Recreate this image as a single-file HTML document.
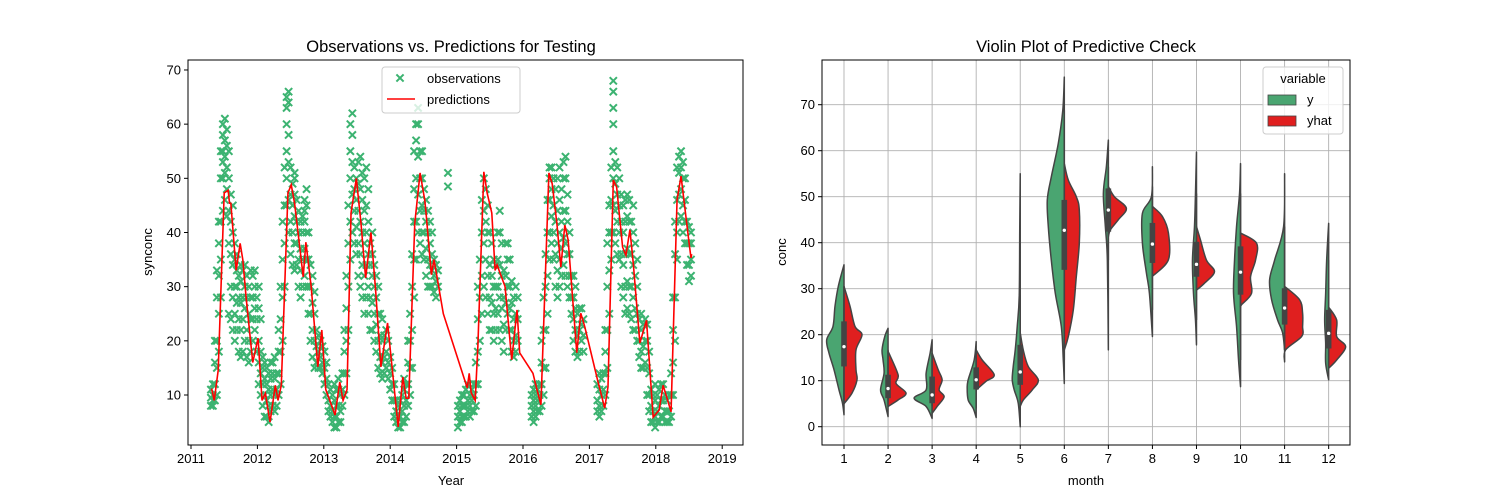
<!DOCTYPE html>
<html><head><meta charset="utf-8"><style>
html,body{margin:0;padding:0;background:#fff;}
svg{display:block;font-family:"Liberation Sans","DejaVu Sans",sans-serif;}
</style></head><body>
<svg id="fig" width="1500" height="500" viewBox="0 0 1500 500"></svg>
<script>
// ---------- Left chart data ----------
const predYears=[2011.31,2011.35,2011.41,2011.50,2011.56,2011.58,2011.60,2011.68,2011.74,2011.78,2011.83,2011.93,2012.01,2012.07,2012.12,2012.19,2012.27,2012.31,2012.36,2012.46,2012.51,2012.56,2012.69,2012.73,2012.81,2012.91,2012.97,2013.03,2013.17,2013.24,2013.29,2013.35,2013.41,2013.49,2013.56,2013.63,2013.71,2013.78,2013.86,2013.96,2014.12,2014.19,2014.24,2014.28,2014.37,2014.45,2014.52,2014.54,2014.62,2014.66,2014.80,2015.16,2015.19,2015.22,2015.28,2015.32,2015.41,2015.46,2015.53,2015.58,2015.61,2015.73,2015.83,2015.91,2015.95,2016.15,2016.20,2016.27,2016.39,2016.44,2016.51,2016.57,2016.63,2016.68,2016.81,2016.87,2016.93,2017.13,2017.23,2017.28,2017.36,2017.41,2017.50,2017.55,2017.61,2017.66,2017.76,2017.86,2017.96,2018.05,2018.11,2018.23,2018.32,2018.38,2018.50,2018.53,2018.54];
const predVals=[11.2,9,14.6,47.3,47.8,45.4,45.4,33,38,35,28,16,20.5,9,10.3,5,11.8,9,11.8,47.3,48.8,45.4,31.8,38.2,30,15.2,22,11,6.3,12.4,9,11,43.6,50,41.7,31.6,40,29.4,15.2,23.3,4.1,13.3,9.4,9.4,41.7,51,46,43.6,32.2,35,25,11.3,14,10.4,9,18.9,51.2,47.3,43.6,33,34,30,16.5,25.7,17.8,14,11.5,8.2,51,49,41.7,33.6,41.4,38.6,17.8,25.1,22.6,12.4,7.6,11.5,49.7,48.4,37.3,35.8,40.5,34.4,19.6,23.8,5.9,7.2,11.8,6.9,46,50.4,38.2,35.3,36];
const obsYears=[2011.30,2011.33,2011.36,2011.39,2011.42,2011.45,2011.48,2011.51,2011.54,2011.57,2011.60,2011.63,2011.66,2011.69,2011.72,2011.75,2011.78,2011.81,2011.84,2011.87,2011.90,2011.93,2011.96,2011.99,2012.02,2012.05,2012.08,2012.11,2012.14,2012.17,2012.20,2012.23,2012.26,2012.29,2012.32,2012.35,2012.38,2012.41,2012.44,2012.47,2012.50,2012.53,2012.56,2012.59,2012.62,2012.65,2012.68,2012.71,2012.74,2012.77,2012.80,2012.83,2012.86,2012.89,2012.92,2012.95,2012.98,2013.01,2013.04,2013.07,2013.10,2013.13,2013.16,2013.19,2013.22,2013.25,2013.28,2013.31,2013.34,2013.37,2013.40,2013.43,2013.46,2013.49,2013.52,2013.55,2013.58,2013.61,2013.64,2013.67,2013.70,2013.73,2013.76,2013.79,2013.82,2013.85,2013.88,2013.91,2013.94,2013.97,2014.00,2014.03,2014.06,2014.09,2014.12,2014.15,2014.18,2014.21,2014.24,2014.27,2014.30,2014.33,2014.36,2014.39,2014.42,2014.45,2014.48,2014.51,2014.54,2014.57,2014.60,2014.63,2014.66,2014.69,2014.72,2014.87,2015.02,2015.05,2015.08,2015.11,2015.14,2015.17,2015.20,2015.23,2015.26,2015.29,2015.32,2015.35,2015.38,2015.41,2015.44,2015.47,2015.50,2015.53,2015.56,2015.59,2015.62,2015.65,2015.68,2015.71,2015.74,2015.77,2015.80,2015.83,2015.86,2015.89,2015.92,2016.13,2016.16,2016.19,2016.22,2016.25,2016.28,2016.31,2016.34,2016.37,2016.40,2016.43,2016.46,2016.49,2016.52,2016.55,2016.58,2016.61,2016.64,2016.67,2016.70,2016.73,2016.76,2016.79,2016.82,2016.85,2016.88,2016.91,2017.12,2017.15,2017.18,2017.21,2017.24,2017.27,2017.30,2017.33,2017.36,2017.39,2017.42,2017.45,2017.48,2017.51,2017.54,2017.57,2017.60,2017.63,2017.66,2017.69,2017.72,2017.75,2017.78,2017.81,2017.84,2017.87,2017.90,2017.93,2017.96,2017.99,2018.02,2018.05,2018.08,2018.11,2018.14,2018.17,2018.20,2018.23,2018.26,2018.29,2018.32,2018.35,2018.38,2018.41,2018.44,2018.47,2018.50,2018.53];
const obsVals=[[8,9.5,11],[8,10,12,9],[9,12,16,20],[10,15,20,28,33],[18,25,32,38,42],[28,35,42,50,55],[44,50,55,58,60,53],[46,51,54,57,61],[43,48,52,56,59],[38,44,50,55,25],[24,30,36,42,47],[22,28,34,40,45],[20,25,30,35,38],[22,27,30,33,36],[18,24,28,32],[17,22,27,31,34],[18,24,28,33],[20,26,30,34],[17,22,28,32],[16,20,25,30],[18,24,28,33],[20,24,28,32],[22,26,30,33],[18,24,28],[12,16,20,26,30],[10,14,18,24],[8,12,15,17],[6,10,13,16],[6,9,12,15],[5,8,11,14],[7,10,13,16],[8,11,14,16],[7,10,13,17],[8,11,14],[10,14,18,22],[12,18,24,30],[20,28,35,42],[30,38,45,52],[45,50,55,60,63,65],[40,46,53,58,64,66],[36,42,47,52],[34,40,45,49],[33,38,43,47,50,51],[34,38,42,46],[30,35,40,44],[28,33,37,42],[30,35,40,43],[32,37,42,44,46],[30,35,40,45,48],[25,30,35,40],[20,25,30,34],[17,22,27,32],[15,20,25,29],[16,19,22],[15,18,21],[15,17,20],[14,16,19],[12,15,18],[10,13,16],[7,9,12],[6,8,11],[5,7,10],[4,6,9,12],[4,6,8,11],[5,8,11,13],[5,7,10],[8,11,14],[10,14,18,22],[14,20,26,32],[22,30,38,45],[35,42,50,55,60],[40,47,53,58,62],[38,44,48,52],[36,41,46,50],[32,38,44,49,53],[30,36,42,48,54],[28,34,40,46,51],[25,32,38,44,50],[28,34,40,45,52],[25,30,36,42,48],[22,28,34,38],[22,27,32,36,40],[20,25,30,34],[18,23,28,32],[15,20,25,30],[14,17,21,25],[13,16,20,24],[14,17,21],[15,18,22],[13,16,20],[11,14,17],[9,12,15],[6,9,12],[5,7,9],[4,6,8],[4,6,9],[5,7,10],[5,8,11,13],[6,9,12],[8,12,16,20],[10,15,20,25],[15,22,30,36],[28,35,42,48,55],[35,42,50,57,60],[40,47,54,60,63],[38,44,50,55],[36,40,45,50,55],[35,40,44,48],[32,37,42,46],[30,35,40,44],[30,34,38,42],[30,33,36,40],[29,32,35],[28,31,34],[30,33],[51,48.5],[4,6,8],[5,7,9],[5,6,8,10],[6,8,10],[6,8,11],[7,9,12],[6,8,10],[7,9,11],[7,10,12],[8,12,16],[12,18,24,30],[20,28,35],[25,32,40,46],[30,38,44,50],[28,35,42,48],[25,32,40,45],[22,28,34,40],[22,27,32,38],[20,25,30,35],[22,26,30,34],[25,30,35,40],[22,28,34,40,44],[20,26,32,38],[18,23,28,33],[22,27,32,38],[25,30,35,38],[22,26,30,35],[18,22,27,31],[17,20,24,28],[18,21,25,30],[20,24,28],[6,8,10],[5,7,9,11],[6,8,10,12],[7,9,11],[7,10,12],[8,12,16,20],[10,15,22,28],[15,22,30,36],[25,32,40,46],[35,40,46,50,52],[38,43,48,52],[35,40,45,50],[30,36,42,48],[28,33,38,44,50],[30,35,40,46,52],[32,37,42,48],[34,39,44,50,53],[32,38,44,50,54],[30,36,42,47],[28,32,36,40],[25,28,32],[20,24,28,32],[18,22,26,30],[17,21,25],[18,22,26],[20,23,26],[18,21,24],[7,9,12],[6,8,11,14],[7,10,13],[8,11,14],[10,14,18,22],[15,22,30,38],[25,33,40,45],[35,40,46,52],[40,45,50,55,60,63,66,68],[38,44,49,53],[36,42,47,52],[35,40,45,50],[30,36,42,47],[28,34,40,45],[25,30,36,42,46],[26,31,37,43,47],[25,30,36,42,46],[24,30,36,42],[22,28,34,40,45],[22,26,32,38],[20,25,30,35],[17,20,24],[15,18,22,25],[15,19,23],[16,20,24],[10,15,20,23],[7,10,14,18],[5,8,11],[5,7,10],[4,6,9,12],[5,7,10],[5,8,11],[6,9,12],[6,9,12],[5,7,10],[5,7,9],[5,7,10],[6,10,14],[10,16,22,28],[20,28,36,42],[35,40,46,52],[42,47,51,54],[43,48,52,55],[40,45,50,53],[38,42,46,50],[34,38,42],[31,34,38,41],[32,35,38,40]];
const leftYTicks=[10,20,30,40,50,60,70];
const leftXTicks=[2011,2012,2013,2014,2015,2016,2017,2018,2019];

// ---------- Right chart data ----------
const months=[1,2,3,4,5,6,7,8,9,10,11,12];
const yDens=[
 [[35.2,0],[30.5,5.7],[26.2,9],[21.8,11],[18.9,17.3],[16,15],[12.4,10],[8,5],[5.1,1.5],[2.6,0]],
 [[21.4,0],[19.6,3.3],[16.7,6],[14.5,5],[11.6,4],[8,7.5],[5.8,4],[2.2,0]],
 [[18.9,0],[16,2],[11.6,6],[8,6],[6.2,18],[4.4,6],[1.8,0]],
 [[18.5,0],[14.5,2],[10.2,8],[8.4,9],[5.8,8],[4,3],[2,0]],
 [[55,0],[43,0.5],[28.5,1],[21.8,3],[16.7,5],[13.1,7],[10.2,8],[8,6],[5.1,2],[0,0]],
 [[76,0],[68.8,1.5],[61.6,6],[54.3,13],[49.3,17],[43.5,16],[36.2,13],[29,9],[21.8,3],[14.5,1],[9.4,0]],
 [[62.3,0],[56.5,2],[50.7,5],[43.5,3],[36.2,1],[16.7,0]],
 [[56.5,0],[50,1],[46.4,10],[39.9,10],[33.4,6],[29,3],[19.6,0]],
 [[59.7,0],[50.7,1],[43.5,2],[36.2,4],[29,3],[23.2,1],[17.8,0]],
 [[57.2,0],[50.7,1],[43.5,4],[36.2,6],[29,7],[21.8,4],[14.5,2],[8.7,0]],
 [[55,0],[43.5,1],[36.2,10],[31.9,15],[27.6,13],[23.2,7],[20.4,2],[16.7,0]],
 [[44.2,0],[36.2,2],[29,3],[23.2,4],[18.2,3],[13.8,3],[10.2,0]]
];
const yhatDens=[
 [[30.5,0],[26.2,6],[21.8,11],[20,18],[16.7,12],[12.4,12],[10.2,13],[7.3,8],[5,0]],
 [[16.4,0],[11.3,10],[9.4,8],[7.3,18],[5.8,10],[4.4,0]],
 [[16,0],[12.4,6],[10.2,10],[8,7],[6.5,12],[4.4,5],[2.9,0]],
 [[16.7,0],[14.5,6],[11.3,18],[9.9,10],[8,0]],
 [[20.4,0],[16.7,3],[13.1,8],[10.2,18],[8,12],[5.8,3],[4.4,0]],
 [[57.2,0],[53.6,4],[50,12],[47.1,15],[39.9,15],[32.6,12],[25.4,9],[19.6,4],[16.7,0]],
 [[52.2,0],[50,6],[47.5,18],[45,10],[42.8,2],[41.3,0]],
 [[47.9,0],[45.7,10],[42.1,16],[36.3,16],[32.7,0]],
 [[43.5,0],[40.6,4],[36.2,10],[33.7,18],[31.2,8],[29.7,0]],
 [[42.1,0],[39.9,16],[36.2,15],[32.6,10],[29,11],[26.5,1],[26,0]],
 [[30.5,0],[27.6,15],[24.7,18],[21.8,18],[19.6,17],[16.7,1],[14.1,0]],
 [[26,0],[23.2,8],[19.6,8],[17.4,17],[14.5,8],[12.7,0]]
];
const whiskLo=[5,5.5,4.5,4,0,14.5,36.2,25.4,23.2,14.5,16.7,12.7];
const whiskHi=[30.5,16.7,16,16.7,28.5,68.8,56.5,52.2,50.7,50.7,43.5,36.2];
const boxQ1=[13.1,6.2,5.1,8.1,9.1,34.1,42.4,35.6,32.6,28.7,22.2,17];
const boxQ3=[22.9,11.3,10.9,12.9,17.8,49.3,51.8,44.3,40.2,39.2,30.1,25.4];
const medians=[17.4,8.3,6.9,10.2,11.9,42.7,47.1,39.7,35.3,33.6,25.8,20.3];
const rightYTicks=[0,10,20,30,40,50,60,70];

const NS='http://www.w3.org/2000/svg';
const svg=document.getElementById('fig');
function mk(tag,attrs,parent){const e=document.createElementNS(NS,tag);for(const k in attrs)e.setAttribute(k,attrs[k]);(parent||svg).appendChild(e);return e;}
function txt(s,x,y,size,anchor,parent){const t=mk('text',{x:x,y:y,'font-size':size,'text-anchor':anchor||'middle',fill:'#000'},parent);t.textContent=s;return t;}
// smooth curve through points (Catmull-Rom -> cubic Bezier)
function smooth(pts){let d='M'+pts[0][0]+','+pts[0][1];
 for(let i=0;i<pts.length-1;i++){const p0=pts[Math.max(0,i-1)],p1=pts[i],p2=pts[i+1],p3=pts[Math.min(pts.length-1,i+2)];
  const c1x=p1[0]+(p2[0]-p0[0])/6,c1y=p1[1]+(p2[1]-p0[1])/6,c2x=p2[0]-(p3[0]-p1[0])/6,c2y=p2[1]-(p3[1]-p1[1])/6;
  d+=`C${c1x},${c1y} ${c2x},${c2y} ${p2[0]},${p2[1]}`;}
 return d;}

// ===== Left axes =====
const L={x0:188,x1:743,y0:60,y1:445};
const lx=yr=>191+(yr-2011)*66.4;
const ly=v=>395-(v-10)*5.417;
const gL=mk('g',{});


const obsG=mk('g',{stroke:'#3cb371','stroke-width':2},gL);


obsYears.forEach((yr,i)=>{obsVals[i].forEach(v=>{const x=lx(yr),y=ly(v),s=3.6;
 const p=mk('path',{d:`M${x-s},${y-s}L${x+s},${y+s}M${x-s},${y+s}L${x+s},${y-s}`},obsG);
 
 });});
const pl=mk('polyline',{points:predYears.map((yr,i)=>lx(yr)+','+ly(predVals[i])).join(' '),fill:'none',stroke:'#ff0000','stroke-width':1.6},gL);


const fL=mk('rect',{x:L.x0,y:L.y0,width:L.x1-L.x0,height:L.y1-L.y0,fill:'none',stroke:'#000','stroke-width':1},gL);


leftYTicks.forEach(v=>{mk('line',{x1:L.x0-4,x2:L.x0,y1:ly(v),y2:ly(v),stroke:'#000'},gL);
 const t=txt(String(v),L.x0-7,ly(v)+4.5,13,'end',gL);
 
 });
leftXTicks.forEach(v=>{mk('line',{x1:lx(v),x2:lx(v),y1:L.y1,y2:L.y1+4,stroke:'#000'},gL);
 const t=txt(String(v),lx(v),L.y1+18,13,'middle',gL);
 
 });
let t;
t=txt('Observations vs. Predictions for Testing',451,52,16.5,'middle',gL);


t=txt('Year',451,485,13,'middle',gL);


t=mk('text',{x:0,y:0,'font-size':13,'text-anchor':'middle',transform:'translate(152,252) rotate(-90)'},gL);t.textContent='synconc';


const lg=mk('g',{},gL);


mk('rect',{x:382,y:67,width:138,height:46,rx:3,fill:'#fff','fill-opacity':0.8,stroke:'#ccc'},lg);
mk('path',{d:'M396.4,74.4L403.6,81.6M396.4,81.6L403.6,74.4',stroke:'#3cb371','stroke-width':2},lg);
mk('line',{x1:387,x2:415,y1:99,y2:99,stroke:'#ff0000','stroke-width':1.6},lg);
t=txt('observations',427,83,13,'start',lg);


t=txt('predictions',427,104,13,'start',lg);



// ===== Right axes =====
const R={x0:822,x1:1350,y0:60,y1:445};
const rx=m=>844+(m-1)*44.06;
const ry=v=>426.7-v*4.6;
const gR=mk('g',{});


rightYTicks.forEach(v=>{mk('line',{x1:R.x0,x2:R.x1,y1:ry(v),y2:ry(v),stroke:'#b0b0b0','stroke-width':0.9},gR);});
months.forEach(m=>{mk('line',{x1:rx(m),x2:rx(m),y1:R.y0,y2:R.y1,stroke:'#b0b0b0','stroke-width':0.9},gR);});
months.forEach((m,i)=>{
 const cx=rx(m);
 const g=mk('g',{},gR);
 
 
 const yd=yDens[i];
 let d=smooth(yd.map(p=>[cx-p[1],ry(p[0])]))+'Z';
 const a=mk('path',{d:d,fill:'#4aa571',stroke:'#444','stroke-width':1.5,'stroke-linejoin':'round'},g);
 
 
 const hd=yhatDens[i];
 d=smooth(hd.map(p=>[cx+p[1],ry(p[0])]))+'Z';
 const b=mk('path',{d:d,fill:'#e01f1f',stroke:'#444','stroke-width':1.5,'stroke-linejoin':'round'},g);
 
 
 mk('line',{x1:cx,x2:cx,y1:ry(whiskLo[i]),y2:ry(whiskHi[i]),stroke:'#444','stroke-width':1.5},g);
 const bx=mk('rect',{x:cx-2.8,y:ry(boxQ3[i]),width:5.6,height:ry(boxQ1[i])-ry(boxQ3[i]),fill:'#444'},g);
 
 
 const md=mk('circle',{cx:cx,cy:ry(medians[i]),r:1.7,fill:'#fff'},g);
 
 
});
const fR=mk('rect',{x:R.x0,y:R.y0,width:R.x1-R.x0,height:R.y1-R.y0,fill:'none',stroke:'#000','stroke-width':1},gR);


rightYTicks.forEach(v=>{mk('line',{x1:R.x0-4,x2:R.x0,y1:ry(v),y2:ry(v),stroke:'#000'},gR);
 const t=txt(String(v),R.x0-7,ry(v)+4.5,13,'end',gR);
 
 });
months.forEach(m=>{mk('line',{x1:rx(m),x2:rx(m),y1:R.y1,y2:R.y1+4,stroke:'#000'},gR);
 const t=txt(String(m),rx(m),R.y1+18,13,'middle',gR);
 
 });
t=txt('Violin Plot of Predictive Check',1086,52,16.5,'middle',gR);


t=txt('month',1086,485,13,'middle',gR);


t=mk('text',{x:0,y:0,'font-size':13,'text-anchor':'middle',transform:'translate(786,252) rotate(-90)'},gR);t.textContent='conc';


const rg=mk('g',{},gR);


mk('rect',{x:1263,y:67,width:80,height:67,rx:3,fill:'#fff','fill-opacity':0.8,stroke:'#ccc'},rg);
t=txt('variable',1303,83,13,'middle',rg);


mk('rect',{x:1268,y:95,width:28,height:10,fill:'#4aa571',stroke:'#444','stroke-width':0.8},rg);
mk('rect',{x:1268,y:116,width:28,height:10,fill:'#e01f1f',stroke:'#444','stroke-width':0.8},rg);
t=txt('y',1307,104,13,'start',rg);


t=txt('yhat',1307,125,13,'start',rg);


</script>
</body></html>
